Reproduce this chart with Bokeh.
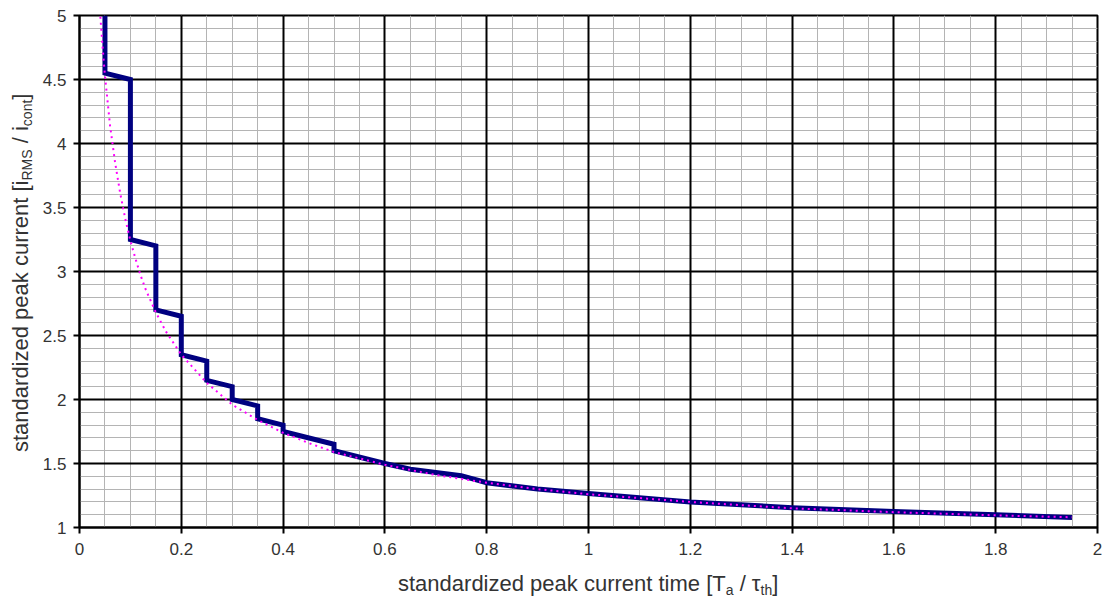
from bokeh.plotting import figure
from bokeh.models import FixedTicker, CustomJSTickFormatter, Range1d, Div, Grid
from bokeh.layouts import row, column
from bokeh.embed import file_html
from bokeh.resources import INLINE

# stepped (actual) peak current curve
x_step = [0.05, 0.05, 0.1, 0.1, 0.15, 0.15, 0.2, 0.2, 0.25, 0.25, 0.3, 0.3, 0.35, 0.35,
          0.4, 0.4, 0.5, 0.5, 0.6, 0.65, 0.75, 0.8, 0.9, 1.0, 1.2, 1.4, 1.6, 1.8, 1.95]
y_step = [5.0, 4.55, 4.5, 3.25, 3.2, 2.7, 2.65, 2.35, 2.3, 2.15, 2.1, 2.0, 1.95, 1.85,
          1.8, 1.75, 1.65, 1.6, 1.5, 1.455, 1.405, 1.35, 1.30, 1.265, 1.20, 1.155, 1.125, 1.10, 1.078]

# theoretical (dotted) curve
x_curve = [0.041, 0.045, 0.05, 0.06, 0.07, 0.08, 0.09, 0.1, 0.11, 0.12, 0.13, 0.14, 0.15,
           0.17, 0.2, 0.25, 0.3, 0.35, 0.4, 0.45, 0.5, 0.6, 0.7, 0.8, 0.9, 1.0, 1.2,
           1.4, 1.6, 1.8, 1.95]
y_curve = [4.99, 4.77, 4.53, 4.14, 3.85, 3.61, 3.41, 3.24, 3.10, 2.97, 2.86, 2.77, 2.68,
           2.53, 2.35, 2.13, 1.96, 1.84, 1.74, 1.66, 1.59, 1.49, 1.41, 1.35, 1.30, 1.26, 1.20,
           1.15, 1.12, 1.095, 1.08]

# axis ticks
x_ticks = [0, 0.2, 0.4, 0.6, 0.8, 1, 1.2, 1.4, 1.6, 1.8, 2]
y_ticks = [1, 1.5, 2, 2.5, 3, 3.5, 4, 4.5, 5]
x_minor = [round(i * 0.05, 2) for i in range(41)]
y_minor = [round(1 + i * 0.1, 2) for i in range(41)]

x_title_html = "standardized peak current time [T<sub>a</sub> / &tau;<sub>th</sub>]"
y_title_html = "standardized peak current [i<sub>RMS</sub> / i<sub>cont</sub>]"

p = figure(width=1064, height=565, output_backend="svg", toolbar_location=None,
           title=None, x_range=Range1d(0, 2), y_range=Range1d(1, 5),
           min_border_left=41, min_border_right=5, min_border_top=15, min_border_bottom=38)
p.background_fill_color = "white"
p.border_fill_color = "white"
p.outline_line_color = "black"
p.outline_line_width = 2

fmt = CustomJSTickFormatter(code="return String(Math.round(tick*100)/100);")
for ax, ticks, minor in ((p.xaxis[0], x_ticks, x_minor), (p.yaxis[0], y_ticks, y_minor)):
    ax.ticker = FixedTicker(ticks=ticks, minor_ticks=minor)
    ax.formatter = fmt
    ax.axis_line_color = "black"
    ax.axis_line_width = 2
    ax.major_tick_line_color = "black"
    ax.major_tick_line_width = 2
    ax.major_tick_out = 6
    ax.major_tick_in = 0
    ax.minor_tick_out = 0
    ax.minor_tick_in = 0
    ax.major_label_text_font = "Liberation Sans"
    ax.major_label_text_font_size = "17px"
    ax.major_label_text_color = "#333333"
p.xaxis.major_label_standoff = 9
p.yaxis.major_label_standoff = 7

# minor grid first (both directions), then the major grid drawn on top
for g in (p.xgrid[0], p.ygrid[0]):
    g.grid_line_color = None
    g.minor_grid_line_color = "#b4b4b4"
    g.minor_grid_line_width = 1
    g.level = "underlay"
p.xgrid[0].ticker = FixedTicker(ticks=x_ticks, minor_ticks=x_minor)
p.ygrid[0].ticker = FixedTicker(ticks=y_ticks, minor_ticks=y_minor)
for dim, ticks in ((0, x_ticks), (1, y_ticks)):
    p.add_layout(Grid(dimension=dim, ticker=FixedTicker(ticks=ticks), grid_line_color="black",
                      grid_line_width=2, level="underlay"))

p.line(x_step, y_step, line_color="#000080", line_width=5, line_join="miter")
p.line(x_curve, y_curve, line_color="#ff00ff", line_width=2, line_dash="2 4")

FONT = "font-family:'Liberation Sans',Arial,sans-serif;color:#333333;"
SUB = "<style>sub{font-size:14px;vertical-align:-4px;line-height:1;}</style>"

xdiv = Div(
    width=1102, height=34, margin=0, styles={"overflow": "visible"},
    text=SUB + f'<div style="position:relative;width:1102px;height:34px;{FONT}">'
         f'<span style="position:absolute;left:398px;top:8px;display:block;white-space:nowrap;'
         f'font-size:22px;line-height:1;">{x_title_html}</span></div>')

ydiv = Div(
    width=38, height=565, margin=0, styles={"overflow": "visible"},
    text=SUB + f'<div style="position:relative;width:38px;height:565px;{FONT}">'
         f'<span style="position:absolute;left:0;top:0;display:block;white-space:nowrap;'
         f'font-size:22px;line-height:1;transform-origin:0 0;'
         f'transform:translate(10px,452px) rotate(-90deg);">{y_title_html}</span></div>')

layout = column(row(ydiv, p, spacing=0), xdiv, spacing=0)

open("out.html", "w").write(file_html(layout, INLINE))
